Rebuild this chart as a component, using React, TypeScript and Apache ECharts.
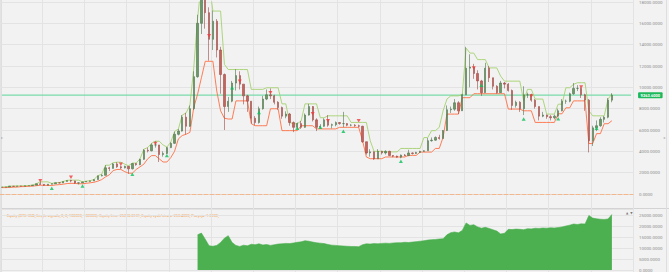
import { useEffect, useRef } from "react";
import * as echarts from "echarts";

// ---------- DATA ----------
const TOTAL_SLOTS = 165; // 160 bars + empty room on the right
const categories: string[] = Array.from({ length: TOTAL_SLOTS }, (_, i) => `B${i + 1}`);

const firstOpen = 630;
const closes = [
  640, 655, 730, 715, 750, 735, 765, 780, 830, 960,
  900, 820, 920, 965, 1050, 1035, 1170, 1260, 1230, 1040,
  1045, 1130, 1180, 1230, 1350, 1700, 1750, 2450, 2400, 2820,
  2550, 2450, 2600, 2360, 2850, 2750, 3250, 4100, 4050, 4600,
  4600, 3700, 3800, 4350, 4750, 5600, 5900, 7200, 6350, 8000,
  11000, 16000, 18800, 17000, 14500, 16200, 13500, 11200, 8200, 8700,
  10400, 11100, 10300, 9200, 8700, 7100, 6700, 8000, 8900, 9300,
  9200, 8600, 8100, 7300, 7500, 6700, 6250, 6600, 6250, 7400,
  8200, 6950, 6250, 6350, 6950, 6450, 6500, 6700, 6600, 6600,
  6450, 6450, 6400, 6350, 4900, 3850, 3950, 3300, 4000, 3850,
  4000, 3600, 3550, 3450, 3650, 3600, 3850, 3800, 3900, 4000,
  4050, 5000, 5050, 5300, 5200, 5950, 7900, 7950, 8550, 7800,
  9300, 11800, 11900, 11300, 10600, 9500, 11800, 10900, 10100, 9500,
  10400, 10300, 9700, 8300, 8600, 8000, 9300, 9300, 8800, 8200,
  7300, 7400, 7250, 7150, 7300, 7800, 8700, 8700, 9400, 9900,
  9900, 9300, 8800, 5000, 6200, 6400, 7000, 7200, 8800, 9263.6,
];
const highs = [
  650, 665, 740, 745, 755, 760, 770, 790, 840, 975,
  1130, 910, 930, 980, 1060, 1070, 1185, 1280, 1330, 1250,
  1060, 1150, 1200, 1250, 1360, 1720, 1850, 2700, 2550, 2900,
  2980, 2650, 2650, 2620, 2900, 2900, 3300, 4200, 4350, 4750,
  4950, 4600, 4000, 4400, 4850, 5850, 6100, 7400, 7600, 8300,
  11500, 16800, 19800, 19600, 17500, 17200, 16400, 13800, 11300, 9100,
  10600, 11700, 11500, 10300, 9300, 8700, 7300, 8200, 9200, 9800,
  9900, 9300, 8700, 8200, 7750, 7600, 6800, 6700, 6850, 7550,
  8450, 8250, 7100, 6550, 7100, 7400, 6600, 6800, 6750, 7700,
  6650, 6550, 6550, 6500, 6400, 4900, 4200, 4000, 4200, 4050,
  4100, 4050, 3650, 3600, 3700, 3750, 4150, 3900, 3950, 4050,
  4100, 5250, 5300, 5400, 5550, 6000, 8300, 8200, 8900, 8700,
  9400, 13800, 13100, 12200, 11600, 10700, 12300, 12000, 10900, 10200,
  10600, 10500, 10400, 9800, 8750, 8700, 10100, 9500, 9400, 8900,
  8200, 7700, 7450, 7400, 7450, 8000, 8900, 8850, 9500, 10400,
  10200, 10000, 9400, 8900, 6400, 6900, 7200, 7300, 9000, 9450,
];
const lows = [
  625, 635, 650, 700, 705, 725, 730, 760, 775, 825,
  880, 760, 810, 900, 960, 990, 1030, 1160, 1100, 950,
  900, 1030, 1120, 1170, 1220, 1340, 1650, 1740, 2150, 2380,
  2450, 2350, 2400, 1900, 2300, 2650, 2700, 3200, 3900, 4000,
  4350, 3000, 3500, 3750, 4300, 4700, 5500, 5850, 5600, 6300,
  7900, 10900, 15000, 15500, 12500, 13500, 12800, 9400, 6000, 7700,
  8600, 9700, 9800, 8400, 7700, 6600, 6450, 6600, 7900, 8800,
  8900, 8400, 7900, 7050, 7100, 6400, 5800, 6100, 6100, 6200,
  7350, 6800, 5900, 6150, 6300, 6300, 6150, 6350, 6500, 6250,
  6350, 6350, 6300, 6250, 4800, 3700, 3500, 3200, 3300, 3700,
  3700, 3550, 3450, 3400, 3350, 3550, 3550, 3700, 3750, 3850,
  3950, 4050, 4900, 5000, 5100, 5200, 5900, 7600, 7800, 7500,
  7800, 9300, 10000, 10800, 9800, 9200, 9500, 10500, 9800, 9400,
  9500, 9900, 9600, 7900, 8100, 7700, 7400, 9000, 8650, 8000,
  6900, 7200, 7050, 6900, 7000, 7200, 7750, 8450, 8600, 9300,
  9650, 9000, 7800, 3900, 4500, 5900, 6300, 6700, 7100, 8600,
];
const upperStop = [
  660, 670, 740, 740, 760, 760, 775, 790, 840, 970,
  1140, 1140, 1140, 990, 1060, 1070, 1180, 1280, 1300, 1300,
  1300, 1150, 1200, 1250, 1360, 1720, 1850, 2700, 2700, 2940,
  2980, 2980, 2800, 2650, 2900, 2900, 3300, 4200, 4350, 4750,
  4950, 4950, 4600, 4400, 4850, 5850, 6100, 7400, 7600, 8300,
  11800, 16460, 19800, 19800, 19800, 17150, 17150, 17150, 12150, 11670,
  11670, 11670, 11670, 11670, 11670, 9810, 9810, 9810, 9810, 9960,
  9960, 9960, 9960, 8450, 8450, 6700, 6590, 6590, 6850, 8450,
  8450, 8450, 8450, 7150, 7150, 7330, 7330, 7330, 7330, 7330,
  7330, 6710, 6710, 6710, 6710, 6710, 5000, 4000, 4000, 4000,
  3950, 3950, 3950, 3950, 4270, 4270, 4270, 4270, 4270, 4270,
  5290, 5290, 5940, 5940, 6250, 7800, 8900, 9200, 9200, 9200,
  9350, 13680, 13210, 13210, 12600, 12600, 12600, 11820, 11820, 11820,
  11050, 10580, 10580, 10580, 10580, 10580, 8730, 9810, 9810, 8900,
  8900, 8900, 7490, 7490, 7490, 8420, 8420, 9960, 9960, 10280,
  10430, 10430, 10430, 7800, 7330, 7330, 7330, 7330, 8900, 9380,
];
const lowerStop = [
  600, 600, 615, 640, 650, 690, 700, 720, 740, 780,
  820, 820, 800, 800, 850, 880, 920, 980, 1000, 990,
  960, 960, 1000, 1050, 1100, 1200, 1350, 1600, 1800, 2200,
  2300, 2300, 2100, 1950, 1950, 2300, 2550, 2800, 3300, 3600,
  3600, 3300, 3000, 3000, 3400, 4000, 5170, 5480, 5600, 5780,
  8100, 9350, 10900, 12440, 12440, 12440, 9650, 7800, 7100, 7030,
  7030, 8730, 8730, 8730, 8730, 6590, 6400, 6400, 6400, 6400,
  7990, 7990, 7990, 5940, 5940, 5940, 5940, 5940, 6400, 6400,
  6400, 6400, 6100, 6100, 6100, 6100, 6100, 6100, 6250, 6250,
  6250, 6250, 6250, 6250, 5010, 3470, 3310, 3310, 3310, 3310,
  3470, 3470, 3470, 3470, 3470, 3470, 3620, 3620, 3620, 3930,
  3930, 3930, 3930, 4270, 4270, 5320, 7490, 7490, 7490, 7490,
  9030, 9030, 9030, 9400, 9400, 9400, 9400, 9400, 9400, 9400,
  9400, 9400, 7960, 7960, 7960, 7960, 7800, 7800, 7800, 6710,
  6710, 6710, 6710, 6710, 6710, 7520, 7520, 8080, 8080, 8730,
  8730, 8730, 8730, 4730, 4730, 5660, 5660, 6590, 6590, 6870,
];
// [bar index, price]
const sellSignals: [number, number][] = [
  [10, 1240], [18, 1580], [31, 2785], [40, 4740], [54, 14830], [62, 10580],
  [70, 9500], [81, 7520], [85, 6870], [93, 6870], [123, 11820], [138, 9190], [151, 10030],
];
const buySignals: [number, number][] = [
  [13, 530], [21, 740], [34, 1860], [43, 3620], [60, 9960], [67, 7640], [77, 6160],
  [83, 6250], [89, 5880], [104, 3060], [125, 10190], [136, 7030], [145, 7060], [155, 6160],
];
const equityStart = 51;
const equity = [
  16000, 16800, 14000, 11000, 10800, 11200, 12500, 14500, 15600, 12500,
  11200, 10700, 11300, 11000, 11700, 11500, 11900, 11400, 11600, 11200,
  11500, 11800, 11900, 12100, 12000, 12300, 12600, 12800, 13300, 13100,
  12700, 12400, 12200, 12000, 11600, 11300, 11200, 11000, 10900, 10800,
  10700, 10700, 10600, 11500, 11900, 11800, 12000, 11900, 12100, 12200,
  12100, 12300, 12400, 12400, 12600, 12500, 12700, 12900, 13100, 13300,
  13600, 13800, 13900, 14100, 14200, 16000, 17000, 17300, 16900, 18000,
  21400, 20300, 20600, 19600, 19000, 19400, 18900, 18300, 17700, 16400,
  16700, 18500, 18400, 18600, 18500, 18300, 18800, 18700, 19000, 18900,
  19100, 19000, 19200, 19100, 19300, 19600, 20000, 20400, 20900, 20700,
  21000, 20900, 24800, 23600, 23300, 23100, 23000, 23200, 25300,
];
const lastPrice = 9263.6;
const priceAxis = { min: 0, max: 18000, step: 2000 };
const equityAxis = { min: 0, max: 27750, step: 5000 };
const legendText =
  "Equity (BTC-USD, Single signals, 0, 0, 100000, 100000): Equity Line: 25298.8131, Equity zysk/strata: 253.4000, Pozycja: 1.0000,";

// ---------- CHART ----------
export default function App() {
  const ref = useRef<HTMLDivElement>(null);

  useEffect(() => {
    document.body.style.margin = "0";
    if (!ref.current) return;
    const chart = echarts.init(ref.current, undefined, { renderer: "svg" });

    const ohlc = closes.map((c, i) => [i === 0 ? firstOpen : closes[i - 1], c, lows[i], highs[i]]);
    const equityData = closes.map((_, i) => (i < equityStart ? null : equity[i - equityStart]));
    const priceLevel = categories.map(() => lastPrice);

    const grey = "#8d8d8d";
    const splitColor = "#e3e3e3";
    const font = "Roboto";
    const fmt = (v: number) => v.toFixed(4);

    const hiddenCat = (gridIndex: number) => ({
      type: "category",
      gridIndex,
      data: categories,
      boundaryGap: true,
      axisLine: { show: false },
      axisTick: { show: false },
      axisLabel: { show: false },
      splitLine: { show: false },
    });

    chart.setOption({
      animation: false,
      backgroundColor: "#f2f2f2",
      grid: [
        { left: 0, right: 36, top: 0, height: 194 },
        { left: 0, right: 36, top: 209, height: 93.8 },
        { left: 0, right: 36, top: 0, height: 272 },
      ],
      xAxis: [
        {
          ...hiddenCat(0),
          axisLine: { show: true, onZero: true, lineStyle: { color: "#f3b78e", type: "dashed", width: 1 } },
        },
        hiddenCat(1),
        {
          ...hiddenCat(2),
          splitLine: { show: true, interval: 10, lineStyle: { color: splitColor, width: 1 } },
        },
      ],
      yAxis: [
        {
          type: "value",
          gridIndex: 0,
          position: "right",
          min: priceAxis.min,
          max: priceAxis.max,
          interval: priceAxis.step,
          axisLine: { show: false },
          axisTick: { show: false },
          axisLabel: { margin: 6, fontSize: 4.4, color: grey, fontFamily: font, formatter: fmt },
          splitLine: { lineStyle: { color: splitColor, width: 1 } },
        },
        {
          type: "value",
          gridIndex: 1,
          position: "right",
          min: equityAxis.min,
          max: equityAxis.max,
          interval: equityAxis.step,
          axisLine: { show: false },
          axisTick: { show: false },
          axisLabel: { margin: 6, fontSize: 4.4, color: grey, fontFamily: font, formatter: fmt, showMaxLabel: false },
          splitLine: { lineStyle: { color: splitColor, width: 1 } },
        },
        { type: "value", gridIndex: 2, min: 0, max: 1, show: false },
      ],
      series: [
        {
          type: "line",
          name: "Equity",
          xAxisIndex: 1,
          yAxisIndex: 1,
          data: equityData,
          symbol: "none",
          lineStyle: { color: "#4caf50", width: 0.6 },
          itemStyle: { color: "#4caf50" },
          areaStyle: { color: "#4caf50", opacity: 1 },
          silent: true,
        },
        {
          type: "line",
          name: "Current price",
          xAxisIndex: 0,
          yAxisIndex: 0,
          data: priceLevel,
          symbol: "none",
          silent: true,
          z: 2,
          lineStyle: { color: "#7adcaa", width: 1.2 },
          itemStyle: { color: "#7adcaa" },
          endLabel: {
            show: true,
            distance: 7,
            formatter: () => fmt(lastPrice),
            color: "#ffffff",
            backgroundColor: "#1cb85c",
            fontSize: 4,
            fontFamily: font,
            fontWeight: "bold",
            padding: [1, 2.5],
            borderRadius: 1,
          },
        },
        {
          type: "line",
          name: "Upper stop",
          xAxisIndex: 0,
          yAxisIndex: 0,
          data: upperStop,
          symbol: "none",
          clip: true,
          lineStyle: { color: "#a5d16f", width: 0.9 },
          itemStyle: { color: "#a5d16f" },
          silent: true,
          z: 3,
        },
        {
          type: "line",
          name: "Lower stop",
          xAxisIndex: 0,
          yAxisIndex: 0,
          data: lowerStop,
          symbol: "none",
          clip: true,
          lineStyle: { color: "#ff6f45", width: 0.9 },
          itemStyle: { color: "#ff6f45" },
          silent: true,
          z: 3,
        },
        {
          type: "candlestick",
          name: "BTC-USD",
          xAxisIndex: 0,
          yAxisIndex: 0,
          data: ohlc,
          clip: true,
          barWidth: 1.8,
          itemStyle: {
            color: "#6b9a66",
            color0: "#c8625a",
            borderColor: "#50704c",
            borderColor0: "#9a4a44",
            borderWidth: 0.6,
          },
          silent: true,
          z: 4,
        },
        {
          type: "scatter",
          name: "Sell",
          xAxisIndex: 0,
          yAxisIndex: 0,
          data: sellSignals,
          symbol: "triangle",
          symbolRotate: 180,
          symbolSize: [4, 3.5],
          itemStyle: { color: "#f03c3c" },
          silent: true,
          z: 6,
        },
        {
          type: "scatter",
          name: "Buy",
          xAxisIndex: 0,
          yAxisIndex: 0,
          data: buySignals,
          symbol: "triangle",
          symbolSize: [4, 3.5],
          itemStyle: { color: "#0cbf5a" },
          silent: true,
          z: 6,
        },
      ],
      graphic: [
        { type: "line", shape: { x1: 0, y1: 208.5, x2: 669, y2: 208.5 }, style: { stroke: "#d3d3d3", lineWidth: 1 }, silent: true },
        { type: "line", shape: { x1: 1.5, y1: 0, x2: 1.5, y2: 272 }, style: { stroke: "#dedede", lineWidth: 1 }, silent: true },
        { type: "line", shape: { x1: 666.5, y1: 0, x2: 666.5, y2: 272 }, style: { stroke: "#dedede", lineWidth: 1 }, silent: true },
        { type: "text", x: 1, y: 137, style: { text: "▸", fill: "#b0b0b0", fontSize: 4, textVerticalAlign: "middle" }, silent: true },
        { type: "text", x: 663, y: 137, style: { text: "◂", fill: "#b0b0b0", fontSize: 4, textVerticalAlign: "middle" }, silent: true },
        {
          type: "text",
          x: 7,
          y: 215,
          style: { text: legendText, fill: "#f5a04a", fontSize: 3.8, fontFamily: font, textVerticalAlign: "middle" },
          silent: true,
        },
        {
          type: "text",
          x: 626,
          y: 213,
          style: { text: "▲  ▼", fill: "#7a7a7a", fontSize: 3, fontFamily: "DejaVu Sans", textVerticalAlign: "middle" },
          silent: true,
        },
      ],
    });

    return () => chart.dispose();
  }, []);

  return <div ref={ref} style={{ width: 669, height: 272 }} />;
}
